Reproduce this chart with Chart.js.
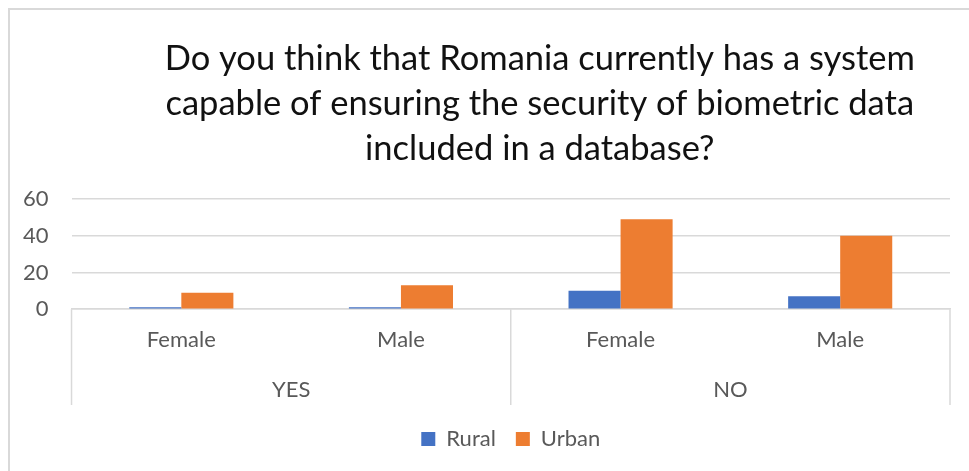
<!DOCTYPE html>
<html lang="en">
<head>
  <meta charset="utf-8" />
  <title>Biometric data security</title>
  <script src="https://cdn.jsdelivr.net/npm/chart.js"></script>
  <style>
    html, body { margin: 0; padding: 0; background: #fff; }
    .wrap { position: relative; width: 969px; height: 471px; overflow: hidden; }
    .frame {
      position: absolute; left: 8px; top: 8px; right: -4px; bottom: -4px;
      border-left: 2px solid #d9d9d9; border-top: 2px solid #d9d9d9;
    }
    canvas { position: absolute; left: 0; top: 0; }
  </style>
</head>
<body>
  <div class="wrap">
    <div class="frame"></div>
    <canvas id="chart" width="969" height="471"></canvas>
  </div>

  <script>
    const titleLines = [
      'Do you think that Romania currently has a system',
      'capable of ensuring the security of biometric data',
      'included in a database?'
    ];
    const groups = ['YES', 'NO'];
    const genders = ['Female', 'Male', 'Female', 'Male'];
    const rural = [1, 1, 10, 7];
    const urban = [9, 13, 49, 40];
    const yTicks = [0, 20, 40, 60];

    const grey = '#595959';
    const lineCol = '#d9d9d9';
    const font = 'Lato, "Open Sans", sans-serif';

    // vertical separators of the YES / NO groups under the plot
    const groupLines = {
      id: 'groupLines',
      afterLayout(chart) {
        // the title sits a bit right of the plot centre, like in Excel
        chart.titleBlock.left += 58;
      },
      afterDraw(chart) {
        const x = chart.scales.x;
        const x2 = chart.scales.x2;
        const ctx = chart.ctx;
        const step = x.width / groups.length;
        ctx.save();
        ctx.strokeStyle = lineCol;
        ctx.lineWidth = 1.5;
        for (let i = 0; i <= groups.length; i++) {
          const px = x.left + i * step;
          ctx.beginPath();
          ctx.moveTo(px, chart.chartArea.bottom);
          ctx.lineTo(px, x2.bottom - 3);
          ctx.stroke();
        }
        ctx.restore();
      }
    };

    new Chart(document.getElementById('chart').getContext('2d'), {
      type: 'bar',
      data: {
        labels: genders,
        datasets: [
          { label: 'Rural', data: rural, backgroundColor: '#4472C4', borderWidth: 0 },
          { label: 'Urban', data: urban, backgroundColor: '#ED7D31', borderWidth: 0 }
        ]
      },
      options: {
        responsive: false,
        animation: false,
        categoryPercentage: 0.474,
        barPercentage: 1,
        layout: { padding: { left: 0, right: 19, top: 8, bottom: 11 } },
        scales: {
          y: {
            min: yTicks[0],
            max: yTicks[yTicks.length - 1],
            afterBuildTicks: (axis) => { axis.ticks = yTicks.map(v => ({ value: v })); },
            ticks: { color: grey, font: { family: font, size: 22 }, padding: 23 },
            grid: { color: lineCol, lineWidth: 1.5, drawTicks: false },
            border: { display: false }
          },
          x: {
            grid: { display: false, drawTicks: false },
            border: { display: true, color: lineCol, width: 1.5 },
            ticks: { color: grey, font: { family: font, size: 22 }, padding: 18 }
          },
          x2: {
            type: 'category',
            labels: groups,
            position: 'bottom',
            offset: true,
            grid: { display: false, drawTicks: false },
            border: { display: false },
            ticks: { color: grey, font: { family: font, size: 22 }, padding: 5 }
          }
        },
        plugins: {
          title: {
            display: true,
            text: titleLines,
            color: '#111',
            fullSize: false,
            font: { family: font, size: 34.5, weight: 'normal', lineHeight: 45 / 34.5 },
            padding: { top: 28, bottom: 28 }
          },
          legend: {
            position: 'bottom',
            fullSize: false,
            labels: {
              color: grey,
              font: { family: font, size: 22 },
              boxWidth: 14,
              boxHeight: 14,
              padding: 20
            }
          },
          tooltip: { enabled: false }
        }
      },
      plugins: [groupLines]
    });
  </script>
</body>
</html>
